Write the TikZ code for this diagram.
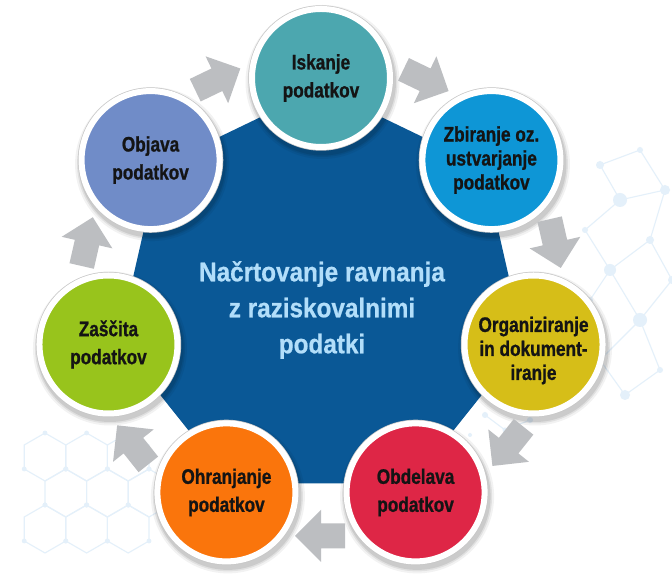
\documentclass[tikz,border=0pt]{standalone}
\usepackage{fontspec}
\setmainfont{Liberation Sans}
\newfontfamily\circfont[FakeStretch=0.82, BoldFeatures={FakeBold=0.9}]{Liberation Sans}
\newfontfamily\centfont[FakeStretch=0.9, BoldFeatures={FakeBold=0.7}]{Liberation Sans}
\definecolor{heptblue}{RGB}{10,88,150}
\definecolor{centtext}{RGB}{178,222,250}
\definecolor{arrowgray}{RGB}{188,190,193}
\definecolor{faint}{RGB}{228,240,250}
\definecolor{cIsk}{RGB}{76,167,175}
\definecolor{cZbi}{RGB}{14,150,214}
\definecolor{cOrg}{RGB}{214,190,24}
\definecolor{cObd}{RGB}{222,38,70}
\definecolor{cOhr}{RGB}{250,117,12}
\definecolor{cZas}{RGB}{152,196,28}
\definecolor{cObj}{RGB}{112,140,200}
\tikzset{
  stage/.style={circle, minimum size=138pt, inner sep=0pt, line width=6pt,
    draw=white, align=center, text=black!92,
    font=\circfont\bfseries\fontsize{21}{28}\selectfont,
    preaction={draw=black!22, line width=7.4pt}},
  stagethree/.style={stage, font=\circfont\bfseries\fontsize{21}{24}\selectfont},
  stagetext/.style={align=center, text=black!92, inner sep=0pt,
    font=\circfont\bfseries\fontsize{21}{24}\selectfont},
  blockarrow/.style={fill=arrowgray},
  deco/.style={draw=faint, line width=1.1pt},
  decodot/.style={fill=faint}
}
\begin{document}
\begin{tikzpicture}[x=1pt,y=1pt]
\useasboundingbox (0,0) rectangle (672,585);
\fill[white] (0,0) rectangle (672,585);
% faint honeycomb, bottom left
\foreach \j in {0,1,2} {
  \foreach \i in {0,1,2} {
    \pgfmathsetmacro{\cx}{45+\i*41.6+mod(\j,2)*20.8}
    \pgfmathsetmacro{\cy}{128-\j*36}
    \draw[deco] (\cx,\cy) ++(90:24) -- ++(210:24) -- ++(270:24) -- ++(330:24) -- ++(30:24) -- ++(90:24) -- cycle;
    \fill[decodot] (\cx,\cy) ++(90:24) circle (2.4);
    \fill[decodot] (\cx,\cy) ++(210:24) circle (2.4);
    \fill[decodot] (\cx,\cy) ++(330:24) circle (2.4);
  }
}
% faint network, right side
\foreach \a/\b in {600/420, 640/435, 665/395, 620/385, 585/355, 650/345, 610/315, 672/305, 590/285, 640/265, 600/225, 660/215, 625/190}
  \coordinate (n\a\b) at (\a,\b);
\draw[deco] (n600420) -- (n640435) -- (n665395) -- (n620385) -- (n600420)
  (n620385) -- (n585355) -- (n610315) -- (n650345) -- (n665395)
  (n650345) -- (n672305) -- (n640265) -- (n610315) -- (n590285) -- (n600225)
  (n640265) -- (n600225) -- (n625190) -- (n660215) -- (n640265);
\foreach \a/\b/\r in {600/420/4, 640/435/3, 665/395/5, 620/385/7, 585/355/3, 650/345/4, 610/315/6, 672/305/4, 590/285/3, 640/265/7, 600/225/4, 660/215/3, 625/190/5}
  \fill[decodot] (\a,\b) circle (\r);
\foreach \a/\b/\r in {485/170/3, 505/155/2.5, 530/165/3, 470/150/2}
  \fill[decodot] (\a,\b) circle (\r);
\draw[deco] (485,170) -- (505,155) -- (530,165);

\begin{scope}[shift={(321,289)}]
  % central heptagon
  \fill[heptblue] (90:208) \foreach \k in {1,...,6} { -- ({90-\k*360/7}:208) } -- cycle;
  \node[font=\centfont\bfseries\fontsize{27}{36}\selectfont, text=centtext, align=center]
    (plan) at (1,-14) {Načrtovanje ravnanja\\z raziskovalnimi\\podatki};
  % positions of the stages
  \foreach \k in {0,...,6} {
    \coordinate (c\k) at ({90-\k*360/7}:218);
  }
  % soft shadows
  \foreach \k in {0,...,6} {
    \foreach \r/\o in {77/0.05, 75/0.07, 73.5/0.09} {
      \fill[black, opacity=\o] ([shift={(1.5,-4)}]c\k) circle (\r);
    }
  }
  % arrows between stages
  \foreach \k in {0,...,6} {
    \pgfmathsetmacro{\ang}{90-(\k+0.5)*360/7}
    \begin{scope}[shift={(\ang:240)}, rotate=\ang-90]
      \fill[blockarrow] (-24,12.5) -- (0,12.5) -- (0,26) -- (26,0) -- (0,-26) -- (0,-12.5) -- (-24,-12.5) -- cycle;
    \end{scope}
  }
  % stages
  \node[stage, fill=cIsk] (isk) at (c0) {Iskanje\\podatkov};
  \node[stagethree, fill=cZbi] (zbi) at (c1) {Zbiranje oz.\\ustvarjanje\\podatkov};
  \node[stage, fill=cOrg] (org) at (c2) {};
  \node[stagetext] (orgtext) at ([yshift=-6pt]org.center) {Organiziranje\\in dokument-\\iranje};
  \node[stage, fill=cObd] (obd) at (c3) {Obdelava\\podatkov};
  \node[stage, fill=cOhr] (ohr) at (c4) {Ohranjanje\\podatkov};
  \node[stage, fill=cZas] (zas) at (c5) {Zaščita\\podatkov};
  \node[stage, fill=cObj] (obj) at (c6) {Objava\\podatkov};
\end{scope}
\end{tikzpicture}
\end{document}
